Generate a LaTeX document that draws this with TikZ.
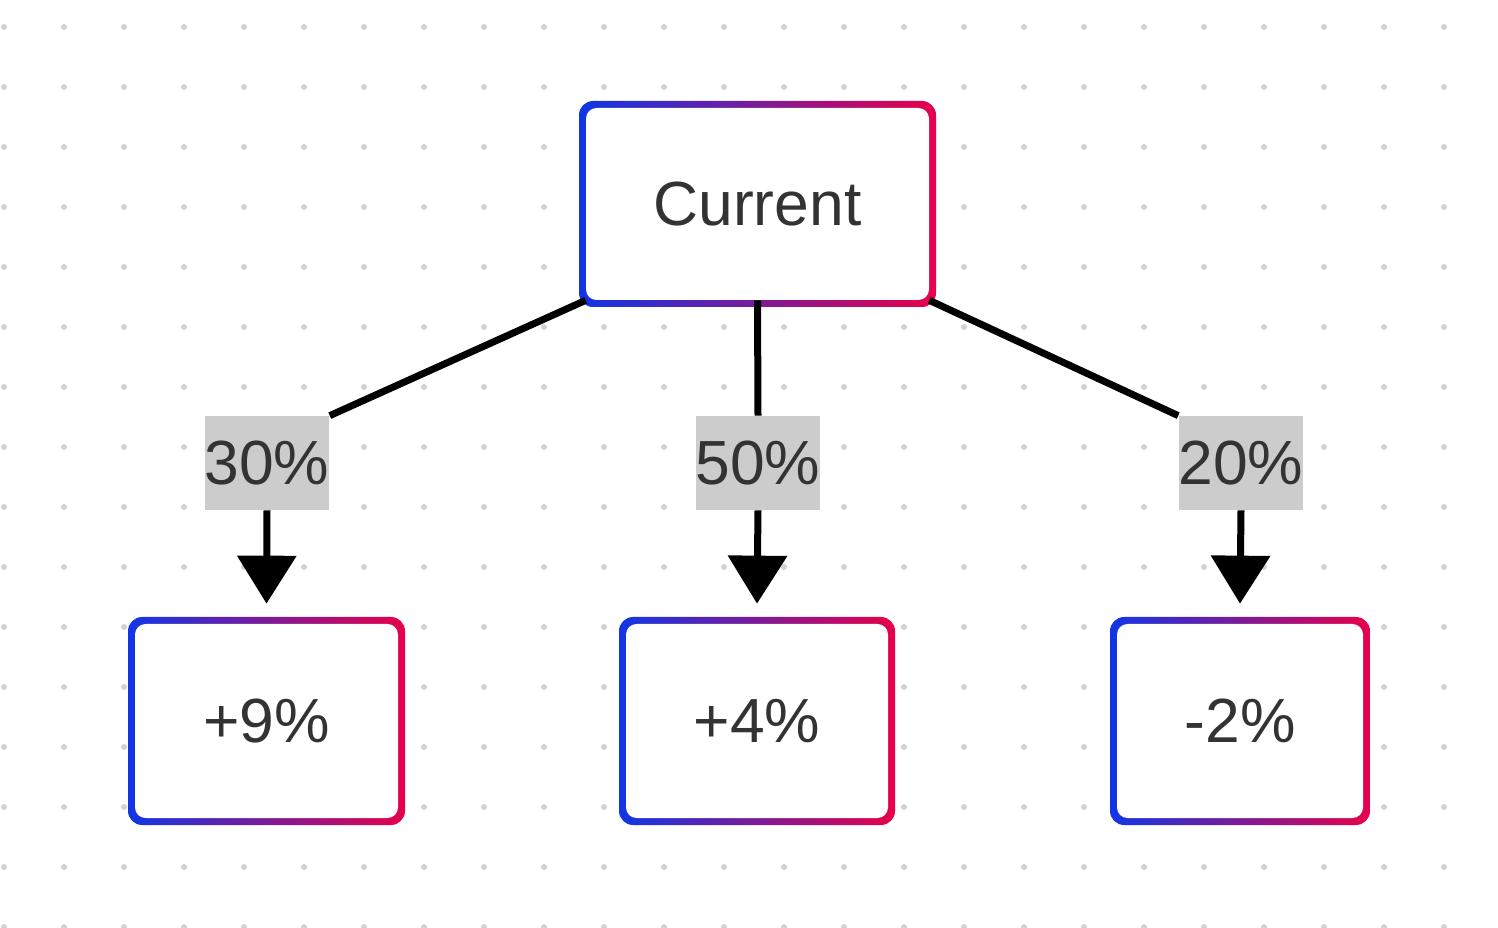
\documentclass[tikz,border=0pt]{standalone}
\usepackage{fontspec}
\setmainfont{Liberation Sans}
\usetikzlibrary{arrows.meta}
\definecolor{gblue}{HTML}{1036E6}
\definecolor{gred}{HTML}{E8004A}
\definecolor{txt}{HTML}{333333}
\definecolor{dotc}{HTML}{D2D2D2}
\definecolor{lblbg}{HTML}{CCCCCC}
\tikzset{
  px/.style={x=0.02cm,y=-0.02cm},
  inner/.style={fill=white,rounded corners=6pt,inner sep=0pt,text=txt,font=\fontsize{35.5}{40}\selectfont},
  lbl/.style={fill=lblbg,inner sep=0pt,minimum width=2.48cm,minimum height=1.88cm,text=txt,font=\fontsize{35.5}{40}\selectfont},
  conn/.style={line width=0.14cm,black},
  arr/.style={conn,-{Triangle[width=1.16cm,length=0.96cm]}}
}
\newcommand{\gbox}[6]{%
  \shade[left color=gblue,right color=gred,rounded corners=8pt] (#1,#2) rectangle (#3,#4);
  \node[inner,minimum width={(#3-#1-14)*0.02cm},minimum height={(#4-#2-14)*0.02cm}] (#5) at ({(#1+#3)/2},{(#2+#4)/2}) {#6};
}
\begin{document}
\begin{tikzpicture}[px]
\useasboundingbox[fill=white] (0,0) rectangle (1498,928);
\foreach \i in {0,...,24}{\foreach \j in {0,...,15}{
  \fill[dotc] ({4+60*\i},{27+60*\j}) circle (3);}}
\gbox{579}{101}{936}{307}{cur}{Current}
\gbox{128}{617}{405}{825}{a}{+9\%}
\gbox{619}{617}{895}{825}{b}{+4\%}
\gbox{1110}{617}{1370}{825}{c}{-2\%}
\node[lbl] (la) at (267,463) {30\%};
\node[lbl] (lb) at (758,463) {50\%};
\node[lbl] (lc) at (1241,463) {20\%};
\draw[conn] (cur.south west) -- (la.north east);
\draw[conn] (cur.south) -- (lb.north);
\draw[conn] (cur.south east) -- (lc.north west);
\draw[arr] (la.south) -- ([yshift=0.4cm]a.north);
\draw[arr] (lb.south) -- ([yshift=0.4cm]b.north);
\draw[arr] (lc.south) -- ([yshift=0.4cm]c.north);
\end{tikzpicture}
\end{document}
